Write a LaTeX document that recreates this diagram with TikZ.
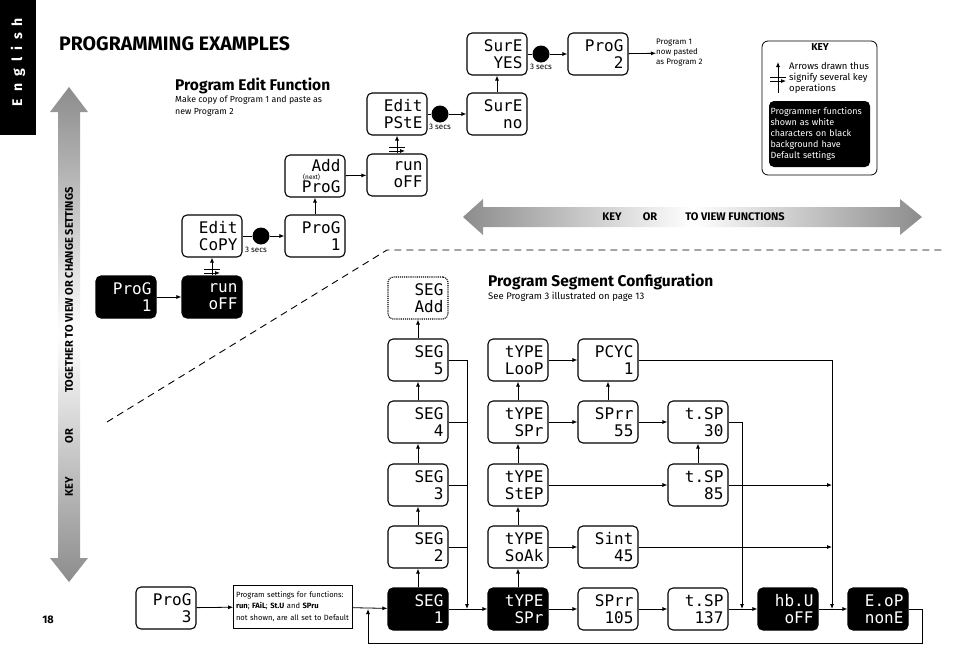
\documentclass[tikz,border=0pt]{standalone}
\usepackage{fontspec}
\setmainfont{Fira Sans}
\newfontfamily\dispfont{DejaVu Sans Mono}
\usetikzlibrary{arrows.meta,positioning}

\tikzset{
  disp/.style={draw, line width=1.1pt, rounded corners=5pt, minimum width=60pt, minimum height=42pt,
    inner sep=0pt, text width=51pt, align=right, font=\dispfont\fontsize{16}{17}\selectfont},
  dispon/.style={disp, fill=black, text=white},
  dispnew/.style={disp, densely dotted},
  link/.style={-{Latex[length=5pt,width=4pt]}, line width=0.8pt},
  wire/.style={line width=0.8pt},
  hold/.style={circle, fill=black, minimum size=17pt, inner sep=0pt},
  secs/.style={font=\fontsize{8}{9}\selectfont, inner sep=1pt},
  heading/.style={font=\bfseries\fontsize{15.5}{18}\selectfont, anchor=west, inner sep=0pt},
  subnote/.style={font=\fontsize{8.8}{12}\selectfont, anchor=north west, align=left, inner sep=0pt},
  keytext/.style={font=\fontsize{9.5}{11}\selectfont, align=left, inner sep=0pt},
  bandtext/.style={font=\bfseries\fontsize{11}{12}\selectfont, inner sep=0pt},
  keybars/.pic={\draw[line width=0.8pt] (-8,-2) -- (8,-2) (-8,2) -- (8,2);},
}

\begin{document}
\begin{tikzpicture}[x=1pt,y=-1pt]
\useasboundingbox (0,0) rectangle (954,672);

\node[fill=black, anchor=north west, minimum width=36pt, minimum height=135pt, inner sep=0pt] (tab) at (0,0) {};
\node[rotate=90, text=white, font=\bfseries\fontsize{14}{14}\selectfont] (tabtext) at (18,62) {\spaceskip=7pt E n g l i s h};
\node[anchor=west, inner sep=0pt, font=\bfseries\fontsize{19.5}{22}\selectfont] (title) at (59,44) {PROGRAMMING EXAMPLES};
\node[font=\bfseries\fontsize{11}{12}\selectfont] (pagenum) at (48,620) {18};

\shade[top color=black!45, bottom color=black!45, middle color=white]
  (69,87) -- (88,112) -- (80,112) -- (80,558) -- (88,558) -- (69,582) -- (50,558) -- (58,558) -- (58,112) -- (50,112) -- cycle;
\node[bandtext, rotate=90] (vkey) at (69,487) {KEY};
\node[bandtext, rotate=90] (vor) at (69,436) {OR};
\node[bandtext, rotate=90] (vset) at (69,290) {TOGETHER TO VIEW OR CHANGE SETTINGS};

\shade[left color=black!45, right color=black!45, middle color=white]
  (463,217) -- (483,199) -- (483,207) -- (900,207) -- (900,199) -- (922,217) -- (900,235) -- (900,227) -- (483,227) -- (483,235) -- cycle;
\node[bandtext] (hkey) at (612,217) {KEY};
\node[bandtext] (hor) at (650,217) {OR};
\node[bandtext] (hview) at (735,217) {TO VIEW FUNCTIONS};

\draw[line width=0.9pt, dash pattern=on 7pt off 5pt] (107,422) -- (387,250) -- (945,250);

% program edit
\node[heading] (edithead) at (175,86) {Program Edit Function};
\node[subnote] (editnote) at (175,96) {Make copy of Program 1 and paste as\\new Program 2};

\node[dispon] (p1) at (126,297) {ProG\\1};
\node[dispon] (run1) at (212,297) {run\\oFF};
\node[disp] (copy) at (212,236) {Edit\\CoPY};
\node[hold] (h1) at (261,236) {};
\node[secs, below=1.5pt of h1, xshift=-5pt] (s1) {3 secs};
\node[disp] (p1b) at (315,236) {ProG\\1};
\node[disp, font=\dispfont\fontsize{16}{21}\selectfont] (addp) at (315,176)
  {Add\\P\makebox[0pt]{\raisebox{12.5pt}{\normalfont\fontsize{6.5}{7}\selectfont(next)}}roG};
\node[disp] (run2) at (397,175) {run\\oFF};
\node[disp] (paste) at (397,114) {Edit\\PStE};
\node[hold] (h2) at (440,114) {};
\node[secs, below=0pt of h2] (s2) {3 secs};
\node[disp] (sureno) at (497,114) {SurE\\no};
\node[disp] (sureyes) at (497,54) {SurE\\YES};
\node[hold] (h3) at (541,54) {};
\node[secs, below=0pt of h3] (s3) {3 secs};
\node[disp] (p2) at (598,54) {ProG\\2};
\node[keytext, anchor=west, font=\fontsize{8}{10}\selectfont] (pasted) at (656,53) {Program 1\\now pasted\\as Program 2};

\draw[link] (p1) -- (run1);
\draw[link] (run1) -- pic[pos=0.25]{keybars} (copy);
\draw[wire] (copy) -- (h1);
\draw[link] (h1) -- (p1b);
\draw[link] (p1b) -- (addp);
\draw[link] (addp) -- (run2);
\draw[link] (run2) -- pic[pos=0.25]{keybars} (paste);
\draw[wire] (paste) -- (h2);
\draw[link] (h2) -- (sureno);
\draw[link] (sureno) -- (sureyes);
\draw[wire] (sureyes) -- (h3);
\draw[link] (h3) -- (p2);
\draw[link] (p2) -- (pasted);

% key
\node[draw, line width=0.8pt, rounded corners=6pt, minimum width=115pt, minimum height=134pt] (key) at (819.5,108) {};
\node[font=\bfseries\fontsize{10}{11}\selectfont] (keyhead) at (820,47) {KEY};
\node[keytext, anchor=north west] (keynote) at (789,62) {Arrows drawn thus\\signify several key\\operations};
\coordinate (keyfoot) at (778,93);
\coordinate (keytip) at (778,62);
\draw[link] (keyfoot) -- pic[pos=0.45]{keybars} (keytip);
\node[fill=black, text=white, rounded corners=5pt, minimum width=101pt, minimum height=66pt, text width=98pt, inner sep=1.5pt,
  align=left, font=\fontsize{9}{11}\selectfont] (defaults) at (819.5,134) {Programmer functions\\shown as white\\characters on black\\background have\\Default settings};

% segments
\node[heading] (seghead) at (488,282) {Program Segment Configuration};
\node[subnote, font=\fontsize{9.5}{12}\selectfont] (segnote) at (488,292) {See Program 3 illustrated on page 13};

\node[disp] (p3) at (166,608) {ProG\\3};
\node[draw, line width=0.7pt, text width=114pt, minimum height=43pt, align=left, inner sep=2.5pt,
  font=\fontsize{7.6}{11.5}\selectfont] (info) at (293,606.5) {Program settings for functions:\\\textbf{run}; \textbf{FAiL}; \textbf{St.U} and \textbf{SPru}\\not shown, are all set to Default};

\node[dispnew] (segadd) at (418,298) {SEG\\Add};
\node[disp] (seg5) at (418,360) {SEG\\5};
\node[disp] (seg4) at (418,422) {SEG\\4};
\node[disp] (seg3) at (418,485) {SEG\\3};
\node[disp] (seg2) at (418,547) {SEG\\2};
\node[dispon] (seg1) at (418,609) {SEG\\1};

\node[disp] (typeloop) at (518,360) {tYPE\\LooP};
\node[disp] (typeramp) at (518,422) {tYPE\\SPr};
\node[disp] (typestep) at (518,485) {tYPE\\StEP};
\node[disp] (typesoak) at (518,547) {tYPE\\SoAk};
\node[dispon] (typefirst) at (518,609) {tYPE\\SPr};

\node[disp] (pcyc) at (608,360) {PCYC\\1};
\node[disp] (rate55) at (608,422) {SPrr\\55};
\node[disp] (soakt) at (608,547) {Sint\\45};
\node[disp] (rate105) at (608,609) {SPrr\\105};

\node[disp] (tsp30) at (698,422) {t.SP\\30};
\node[disp] (tsp85) at (698,485) {t.SP\\85};
\node[disp] (tsp137) at (698,609) {t.SP\\137};

\node[dispon] (hbu) at (788,609) {hb.U\\oFF};
\node[dispon] (eop) at (878,609) {E.oP\\nonE};

\coordinate (busa) at (467,609);
\coordinate (busb) at (742,609);
\coordinate (busc) at (832,609);
\coordinate (loopin) at (368,609);
\coordinate (loopbase) at (368,643);

\draw[link] (p3) -- (info);
\draw[link] (info) -- (seg1);
\foreach \a/\b in {seg1/seg2, seg2/seg3, seg3/seg4, seg4/seg5, seg5/segadd,
  typefirst/typesoak, typesoak/typestep, typestep/typeramp, typeramp/typeloop,
  rate55/pcyc, tsp85/tsp30,
  seg1/typefirst, typefirst/rate105, rate105/tsp137, tsp137/hbu, hbu/eop,
  typeloop/pcyc, typeramp/rate55, rate55/tsp30, typestep/tsp85, typesoak/soakt}
  \draw[link] (\a) -- (\b);

\draw[link] (seg5.east) -| (busa);
\foreach \s in {seg4, seg3, seg2}
  \draw[wire] (\s.east) -- (\s.east -| busa);
\draw[link] (tsp30.east) -| (busb);
\draw[link] (pcyc.east) -| (busc);
\draw[link] (tsp85.east) -- (tsp85.east -| busc);
\draw[link] (soakt.east) -- (soakt.east -| busc);
\draw[link] (eop.east) -- ++(14,0) |- (loopbase) -- (loopin);

\end{tikzpicture}
\end{document}
